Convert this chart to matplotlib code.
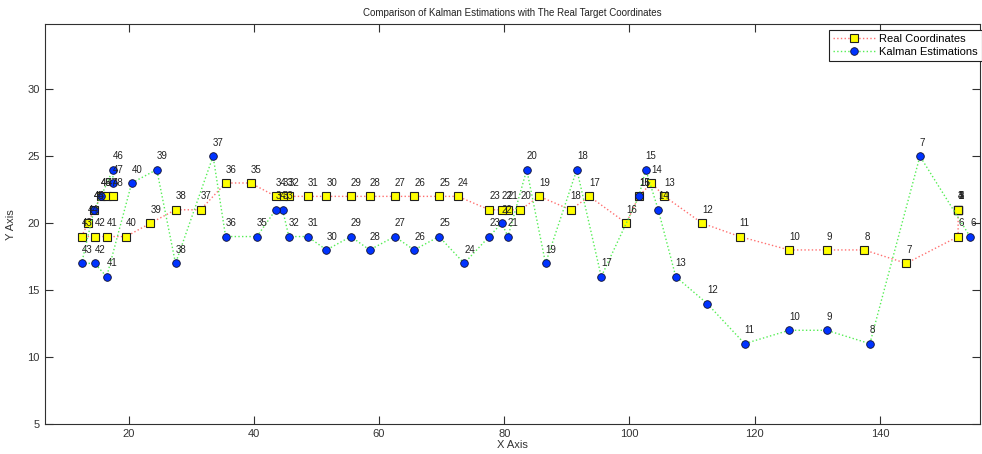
import matplotlib
matplotlib.use("Agg")
import matplotlib.pyplot as plt

plt.rcParams['font.family'] = ['Liberation Sans', 'DejaVu Sans']

# Real target coordinates, frames 1..48
real_frames = list(range(1, 49))
real_x = [152.5, 152.5, 152.5, 152.5, 152.5, 152.5, 144.2, 137.5, 131.5, 125.5,
          117.6, 111.6, 105.6, 103.5, 101.5, 99.5, 93.6, 90.6, 85.6, 82.6,
          80.6, 79.6, 77.6, 72.6, 69.6, 65.6, 62.5, 58.5, 55.5, 51.6,
          48.6, 45.6, 44.6, 43.5, 39.5, 35.5, 31.5, 27.5, 23.5, 19.6,
          16.5, 14.6, 12.5, 13.5, 14.5, 15.6, 16.5, 17.5]
real_y = [21, 21, 21, 21, 21, 19, 17, 18, 18, 18,
          19, 20, 22, 23, 22, 20, 22, 21, 22, 21,
          21, 21, 21, 22, 22, 22, 22, 22, 22, 22,
          22, 22, 22, 22, 23, 23, 21, 21, 20, 19,
          19, 19, 19, 20, 21, 22, 22, 22]

# Kalman filter estimations, frames 6..47
kal_frames = list(range(6, 48))
kal_x = [154.4, 146.4, 138.4, 131.5, 125.5, 118.4, 112.4, 107.4, 104.6, 102.6,
         101.5, 95.5, 91.6, 86.6, 83.6, 80.6, 79.6, 77.6, 73.6, 69.6,
         65.6, 62.5, 58.5, 55.5, 51.6, 48.6, 45.6, 44.6, 43.5, 40.5,
         35.5, 33.5, 27.5, 24.5, 20.5, 16.5, 14.6, 12.5, 14.5, 15.6,
         17.5, 17.5]
kal_y = [19, 25, 11, 12, 12, 11, 14, 16, 21, 24,
         22, 16, 24, 17, 24, 19, 20, 19, 17, 19,
         18, 19, 18, 19, 18, 19, 19, 21, 21, 19,
         19, 25, 17, 24, 23, 16, 17, 17, 21, 22,
         24, 23]

x_ticks = [20, 40, 60, 80, 100, 120, 140]
y_ticks = [5, 10, 15, 20, 25, 30]

fig = plt.figure(figsize=(9.82, 4.54), dpi=100)
ax = fig.add_axes([0.0455, 0.066, 0.9525, 0.8805])

ax.plot(real_x, real_y, linestyle=':', color='#ff7070', linewidth=1.0,
        marker='s', markersize=5.5, markerfacecolor='#ffff00',
        markeredgecolor='#202020', markeredgewidth=0.8,
        label='Real Coordinates', zorder=2)
ax.plot(kal_x, kal_y, linestyle=':', color='#55ee55', linewidth=1.0,
        marker='o', markersize=5.5, markerfacecolor='#0033ff',
        markeredgecolor='#101030', markeredgewidth=0.6,
        label='Kalman Estimations', zorder=3)

for f, x, y in zip(real_frames, real_x, real_y):
    ax.text(x, y + 1.0, str(f), fontsize=7, color='#222222',
            ha='left', va='center', zorder=4)
for f, x, y in zip(kal_frames, kal_x, kal_y):
    ax.text(x, y + 1.0, str(f), fontsize=7, color='#222222',
            ha='left', va='center', zorder=4)

ax.set_xlim(6.6, 156.0)
ax.set_ylim(5, 34.85)
ax.set_xticks(x_ticks)
ax.set_yticks(y_ticks)
ax.tick_params(direction='in', length=6, width=0.8, labelsize=8,
               top=True, right=True, colors='#303030', labelcolor='#333333')
for s in ax.spines.values():
    s.set_color('#303030')
    s.set_linewidth(0.8)

ax.set_title('Comparison of Kalman Estimations with The Real Target Coordinates',
             fontsize=7, color='#222222', pad=6)
ax.set_xlabel('X Axis', fontsize=8, color='#333333', labelpad=1)
ax.set_ylabel('Y Axis', fontsize=8, color='#333333', labelpad=8)

leg = ax.legend(loc='upper right', bbox_to_anchor=(1.0, 0.934),
                bbox_transform=fig.transFigure, borderaxespad=0,
                fontsize=8, fancybox=False, framealpha=1,
                edgecolor='#202020', handlelength=3.9, handletextpad=0.3,
                borderpad=0.35, labelspacing=0.3)
leg.get_frame().set_linewidth(0.8)

fig.savefig('out.png', dpi=100)
